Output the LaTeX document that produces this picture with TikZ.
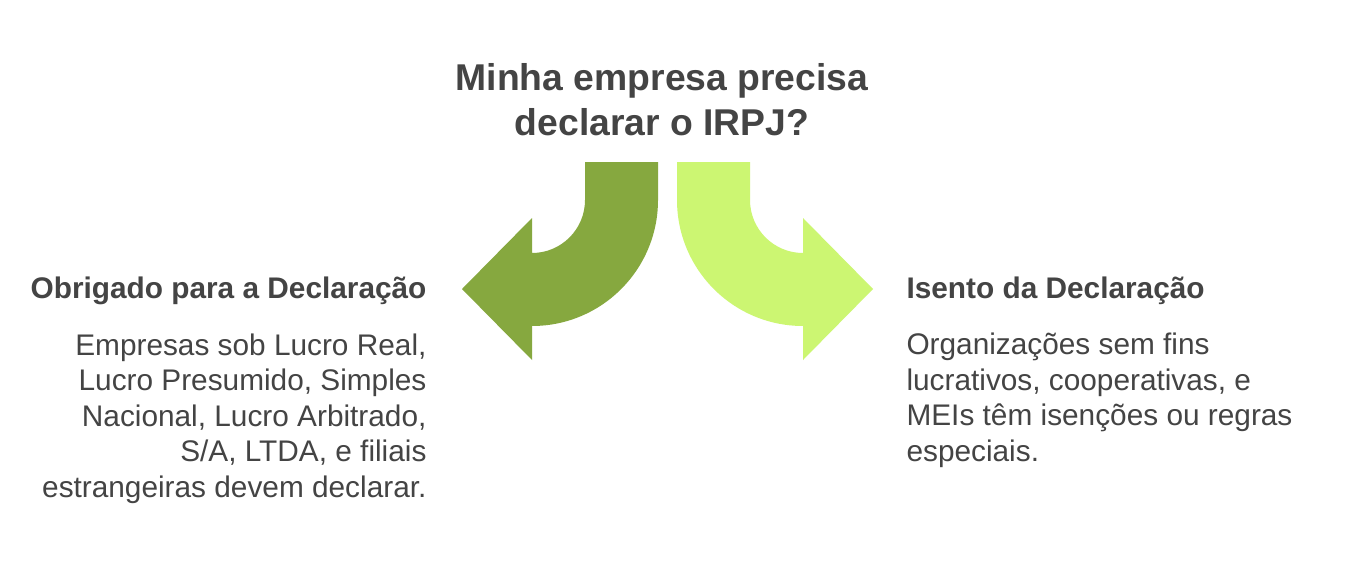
\documentclass[tikz,border=0pt]{standalone}
\usepackage{fontspec}
\setmainfont{Liberation Sans}
\definecolor{txt}{HTML}{444444}
\definecolor{darkg}{HTML}{86A83F}
\definecolor{lightg}{HTML}{CCF672}
\tikzset{
 title/.style={font=\fontsize{37.3}{44}\selectfont\bfseries,text=txt,align=center},
 head/.style={font=\fontsize{29.8}{30}\selectfont\bfseries,text=txt},
 body/.style={font=\fontsize{29.8}{35.5}\selectfont,text=txt},
}
\begin{document}
\begin{tikzpicture}[x=1pt,y=-1pt]
\useasboundingbox[fill=white] (0,0) rectangle (1352,578);
\node[title,anchor=base] (t) at (662,135) {Minha empresa precisa\\declarar o IRPJ?};
% left arrow
\fill[darkg] (585,162) -- (658,162) -- (658,200) arc[start angle=0,end angle=90,radius=126] -- (532,360) -- (462,289) -- (532,218) -- (532,253) arc[start angle=90,end angle=0,radius=53] -- cycle;
% right arrow
\fill[lightg] (750,162) -- (677,162) -- (677,200) arc[start angle=180,end angle=90,radius=126] -- (803,360) -- (873,289) -- (803,218) -- (803,253) arc[start angle=90,end angle=180,radius=53] -- cycle;
\node[head,anchor=base east] (lh) at (430,298) {Obrigado para a Declaração};
\node[body,anchor=base east,align=right] (lb) at (430,497) {Empresas sob Lucro Real,\\Lucro Presumido, Simples\\Nacional, Lucro Arbitrado,\\S/A, LTDA, e filiais\\estrangeiras devem declarar.};
\node[head,anchor=base west] (rh) at (903,298) {Isento da Declaração};
\node[body,anchor=base west,align=left] (rb) at (903,461) {Organizações sem fins\\lucrativos, cooperativas, e\\MEIs têm isenções ou regras\\especiais.};
\end{tikzpicture}
\end{document}
